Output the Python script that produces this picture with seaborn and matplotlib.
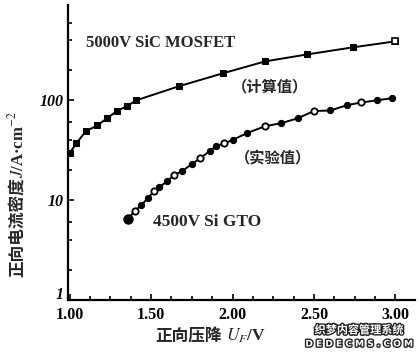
import matplotlib
matplotlib.use("Agg")
import matplotlib.pyplot as plt
import matplotlib.patheffects as pe
import matplotlib.ticker as mticker
import matplotlib.transforms as mtrans
import seaborn as sns
import pandas as pd

# 5000V SiC MOSFET (calculated)
mos_u = [1.00, 1.04, 1.10, 1.17, 1.23, 1.29, 1.35, 1.41, 1.67, 1.94, 2.20, 2.46, 2.74, 3.00]
mos_j = [29.5, 37, 49, 56, 66, 78, 87, 100, 138, 186, 245, 288, 339, 389]

# 4500V Si GTO (measured)
gto_u = [1.36, 1.40, 1.44, 1.48, 1.52, 1.55, 1.60, 1.64, 1.69, 1.75, 1.80, 1.86, 1.90,
         1.95, 2.00, 2.09, 2.20, 2.30, 2.40, 2.50, 2.60, 2.70, 2.79, 2.89, 2.98]
gto_j = [6.5, 7.8, 8.9, 10.5, 12.3, 13.5, 15.5, 17.8, 19.5, 22.9, 26.3, 30.9, 34.7,
         37, 40, 47, 55, 59, 66, 78, 79, 89, 95, 100, 105]

x_ticks = [1.00, 1.50, 2.00, 2.50, 3.00]
y_ticks = [1, 10, 100]

sns.set_style("ticks")
plt.rcParams["font.family"] = ["Liberation Serif", "DejaVu Sans", "Noto Sans CJK SC"]
plt.rcParams["mathtext.fontset"] = "stix"

df_mos = pd.DataFrame({"U": mos_u, "J": mos_j})
df_gto = pd.DataFrame({"U": gto_u, "J": gto_j})

fig = plt.figure(figsize=(4.2, 3.55), dpi=100)
ax = fig.add_axes([0.162, 0.155, 0.826, 0.831])

# curves
sns.lineplot(data=df_mos, x="U", y="J", ax=ax, color="black", lw=1.4,
             marker="s", markersize=4, markeredgecolor="black")
ax.plot(mos_u[-1], mos_j[-1], marker="s", ms=5, mfc="white", mec="black", mew=1.2)
sns.lineplot(data=df_gto, x="U", y="J", ax=ax, color="black", lw=1.4,
             marker="o", markersize=4.5, markeredgecolor="black")
ax.plot(gto_u[0], gto_j[0], marker="o", ms=6.5, color="black")
ax.plot(gto_u[1::3], gto_j[1::3], ls="none", marker="o", ms=4.5,
        mfc="white", mec="black", mew=1.3)

ax.set_yscale("log")
ax.set_xlim(0.99, 3.12)
ax.set_ylim(1, 900)

ax.set_xticks(x_ticks)
ax.set_xticklabels([f"{v:.2f}" for v in x_ticks])
ax.xaxis.set_minor_locator(mticker.MultipleLocator(0.125))
ax.set_yticks(y_ticks)
ax.set_yticklabels([str(v) for v in y_ticks], style="italic")
ax.yaxis.set_minor_locator(mticker.LogLocator(subs=[2, 4, 6]))
ax.yaxis.set_minor_formatter(mticker.NullFormatter())

ax.tick_params(which="both", direction="in", width=1.2, colors="black",
               labelsize=11.5)
ax.tick_params(axis="x", which="major", length=4, pad=5)
ax.tick_params(axis="y", which="major", length=4, pad=3)
ax.tick_params(which="minor", length=3)
for lab in ax.get_xticklabels() + ax.get_yticklabels():
    lab.set_fontweight("bold")
# lift the "1" label a little, like the reference
lift = mtrans.ScaledTranslation(0, 5 / 72, fig.dpi_scale_trans)
lab1 = ax.get_yticklabels()[0]
lab1.set_transform(lab1.get_transform() + lift)

sns.despine(ax=ax)
for s in ["left", "bottom"]:
    ax.spines[s].set_linewidth(1.6)
    ax.spines[s].set_color("black")

# axis labels built from pieces (CJK + italic symbol)
cjk = ["Noto Sans CJK SC"]
fig.text(155 / 420, 1 - 336 / 355, "正向压降", fontsize=12, fontweight="bold",
         family=cjk, ha="left", va="center")
fig.text(226 / 420, 1 - 336 / 355, r"$U_F$/V", fontsize=12.5, fontweight="bold",
         ha="left", va="center")
fig.text(17 / 420, 1 - 277 / 355, "正向电流密度", fontsize=12, fontweight="bold",
         family=cjk, rotation=90, ha="center", va="bottom")
fig.text(17 / 420, 1 - 178 / 355, r"$J$/A·cm$^{-2}$", fontsize=12,
         fontweight="bold", rotation=90, ha="center", va="bottom")
ax.set_xlabel("")
ax.set_ylabel("")

# annotations
ax.text(1.10, 372, "5000V SiC MOSFET", fontsize=12, fontweight="bold",
        va="center", ha="left")
ax.text(2.23, 138, "（计算值）", fontsize=11, fontweight="bold", va="center",
        ha="center", family=cjk)
ax.text(2.25, 26, "（实验值）", fontsize=11, fontweight="bold", va="center",
        ha="center", family=cjk)
ax.text(1.51, 6.0, "4500V Si GTO", fontsize=12.5, fontweight="bold",
        va="center", ha="left")

# watermark
wm = [pe.withStroke(linewidth=2, foreground="#222222")]
fig.text(0.855, 1 - 330 / 355, "织梦内容管理系统", fontsize=8, color="white",
         ha="center", va="center", fontweight="bold", path_effects=wm,
         family=cjk)
fig.text(0.855, 1 - 344 / 355, "D E D E C M S . C O M", fontsize=6.5,
         color="white", ha="center", va="center", fontweight="bold",
         path_effects=wm, family=["DejaVu Sans"])

ax.grid(False)
fig.savefig("out.png", dpi=100)
